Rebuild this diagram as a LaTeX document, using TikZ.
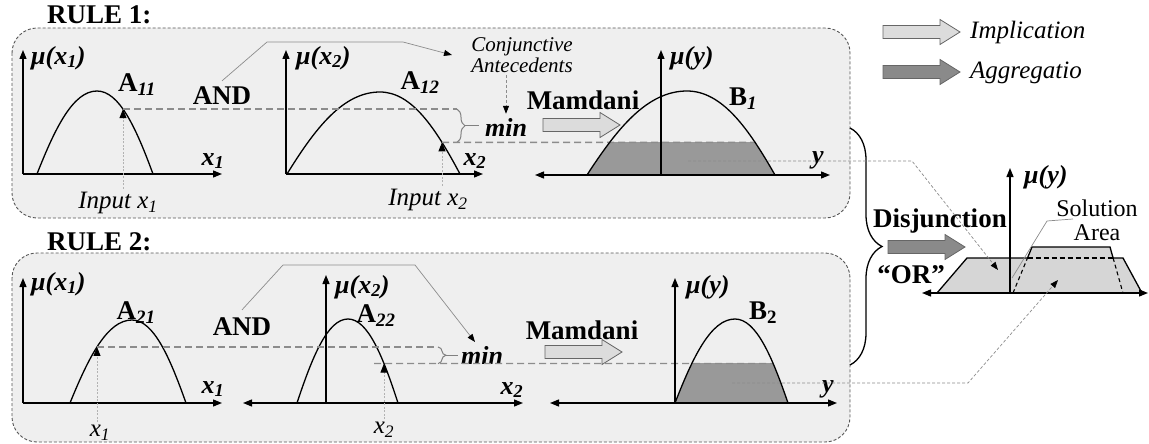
\documentclass[tikz,border=0pt]{standalone}
\usepackage{fontspec}
\setmainfont{Liberation Serif}
\usetikzlibrary{arrows.meta,intersections,decorations.pathreplacing,calc}
\definecolor{boxfill}{HTML}{EFEFEF}
\definecolor{boxline}{HTML}{555555}
\definecolor{shadefill}{HTML}{999999}
\definecolor{implfill}{HTML}{DCDCDC}
\definecolor{aggfill}{HTML}{8A8A8A}
\definecolor{outfill}{HTML}{D6D6D6}
\definecolor{levelcol}{HTML}{8C8C8C}
\definecolor{leadcol}{HTML}{8C8C8C}
\newcommand\mkhump[7]{%
 \pgfmathsetmacro\hmpA{#2+0.3*(#4-#2)}%
 \pgfmathsetmacro\hmpB{#3-0.55*(#3-#5)}%
 \pgfmathsetmacro\hmpC{#4-0.4*(#4-#2)}%
 \pgfmathsetmacro\hmpD{#4+0.4*(#6-#4)}%
 \pgfmathsetmacro\hmpE{#6-0.3*(#6-#4)}%
 \pgfmathsetmacro\hmpF{#7-0.55*(#7-#5)}%
 \coordinate (#1s) at (#2,#3);
 \coordinate (#1a) at (\hmpA,\hmpB);
 \coordinate (#1b) at (\hmpC,#5);
 \coordinate (#1p) at (#4,#5);
 \coordinate (#1c) at (\hmpD,#5);
 \coordinate (#1d) at (\hmpE,\hmpF);
 \coordinate (#1e) at (#6,#7);
}
\newcommand\humpto[1]{(#1s) .. controls (#1a) and (#1b) .. (#1p) .. controls (#1c) and (#1d) .. (#1e)}
\begin{document}
\begin{tikzpicture}[x=1pt,y=-1pt,
 axis/.style={line width=1.3pt,-{Triangle[width=7pt,length=9pt]}},
 axisb/.style={line width=1.3pt,{Triangle[width=7pt,length=9pt]}-{Triangle[width=7pt,length=9pt]}},
 curve/.style={line width=1.3pt},
 level/.style={draw=levelcol,line width=1.3pt,dash pattern=on 7pt off 4pt},
 inarrow/.style={draw=gray!60,line width=0.9pt,dash pattern=on 2pt off 1.5pt,-{Triangle[width=7pt,length=9pt,color=black]}},
 leader/.style={draw=leadcol,line width=0.7pt,-{Triangle[width=6pt,length=8pt,color=black]}},
 leaderd/.style={leader,dash pattern=on 3pt off 2pt},
 plainlead/.style={draw=leadcol,line width=0.7pt},
 panel/.style={draw=boxline,fill=boxfill,line width=0.9pt,dash pattern=on 3pt off 2pt,rounded corners=25pt},
 minbrace/.style={draw=gray,line width=1pt,decorate,decoration={brace,amplitude=8pt}},
 bt/.style={font=\fontsize{27}{30}\selectfont\bfseries,inner sep=0pt},
 it/.style={font=\fontsize{25}{28}\selectfont\itshape,inner sep=0pt},
 bit/.style={font=\fontsize{26}{29}\selectfont\bfseries\itshape,inner sep=0pt},
 rt/.style={font=\fontsize{24}{24}\selectfont,inner sep=0pt},
 blockarr/.pic={\draw[pic actions] (0,-6.5) -- (57,-6.5) -- (57,-12.5) -- (77,0) -- (57,12.5) -- (57,6.5) -- (0,6.5) -- cycle;},
 implarr/.style={fill=implfill,draw=black!60,line width=0.8pt},
 aggarr/.style={fill=aggfill,draw=black!60,line width=0.8pt},
]
\useasboundingbox (0,0) rectangle (1149,444);

% panels
\draw[panel] (12,28) rectangle (850,218);
\draw[panel] (12,253) rectangle (850,442);
\node[bt,anchor=west] (r1) at (47,15) {RULE 1:};
\node[bt,anchor=west] (r2) at (47,242) {RULE 2:};

% ---------- RULE 1, plot 1
\coordinate (o11) at (23,174);
\draw[axis] (o11) -- (23,50);
\draw[axis] (o11) -- (222,174);
\node[bit,anchor=west] (mu11) at (31,58) {μ(x\textsubscript{1})};
\mkhump{a11}{37}{174}{97}{91}{153}{174}
\draw[curve,name path=ca11] \humpto{a11};
\node[bt] (la11) at (137,85) {A\textsubscript{\itshape 11}};
\node[bit] (x11) at (213,161) {x\textsubscript{1}};
\node[it] (in11) at (118,203) {Input x\textsubscript{1}};
\path[name path=v11] (123,190) -- (123,60);
\path[name intersections={of=ca11 and v11,by=i11}];
\draw[inarrow] ([yshift=3pt]in11.north -| i11) -- (i11);

% ---------- RULE 1, plot 2
\coordinate (o12) at (286,174);
\draw[axis] (o12) -- (286,50);
\draw[axis] (o12) -- (483,174);
\node[bit,anchor=west] (mu12) at (296,58) {μ(x\textsubscript{2})};
\mkhump{a12}{287}{174}{380}{92}{460}{174}
\draw[curve,name path=ca12] \humpto{a12};
\node[bt] (la12) at (420,83) {A\textsubscript{\itshape 12}};
\node[bit] (x12) at (475,161) {x\textsubscript{2}};
\node[it] (in12) at (428,200) {Input x\textsubscript{2}};
\path[name path=v12] (442,190) -- (442,60);
\path[name intersections={of=ca12 and v12,by=i12}];
\draw[inarrow] ([yshift=3pt]in12.north -| i12) -- (i12);

% AND / conjunctive / min
\node[bt] (and1) at (222,96) {AND};
\node[it,font=\fontsize{21}{21}\selectfont\itshape,align=center] (conj) at (522,55) {Conjunctive\\Antecedents};
\coordinate (and1k1) at (267,42);
\coordinate (and1k2) at (403,42);
\coordinate (and1t) at (452,55);
\draw[leader] ([yshift=6pt]and1.north) -- (and1k1) -- (and1k2) -- (and1t);
\coordinate (br1) at (457,0);
\draw[level] (i11) -- (br1 |- i11);
\draw[minbrace] (br1 |- i11) -- (br1 |- i12);
\node[bit] (min1) at (506,127) {min};
\coordinate (tip1) at ($(br1|-i11)!.5!(br1|-i12)+(8,0)$);
\draw[draw=gray,line width=1pt] (tip1) -- ([xshift=-6pt]min1.west |- tip1);
\draw[leaderd] ([yshift=-2pt]min1.north |- conj.south) -- ([yshift=4pt]min1.north);

% Mamdani 1
\node[bt] (mam1) at (583,100) {Mamdani};
\pic[implarr] (imp1) at (543,125) {blockarr};

% B1
\coordinate (ob1) at (661,175);
\mkhump{b1}{587}{175}{687}{91}{775}{175}
\path[name path=cb1] \humpto{b1};
\path[name path=h12] (560,0 |- i12) -- (800,0 |- i12);
\path[name intersections={of=cb1 and h12,sort by=cb1,by={b1l,b1r}}];
\begin{scope}
\clip (560,0 |- i12) rectangle (800,175);
\fill[shadefill] \humpto{b1} -- cycle;
\end{scope}
\draw[level] (i12) -- (b1r);
\draw[curve] \humpto{b1};
\draw[axis] (ob1) -- (661,50);
\draw[axisb] (535,175) -- (830,175);
\node[bit,anchor=west] (muy1) at (670,58) {μ(y)};
\node[bt] (lb1) at (743,99) {B\textsubscript{\itshape 1}};
\node[bit] (y1) at (818,160) {y};

% ---------- RULE 2, plot 1
\coordinate (o21) at (23,403);
\draw[axis] (o21) -- (23,278);
\draw[axis] (o21) -- (222,403);
\node[bit,anchor=west] (mu21) at (31,284) {μ(x\textsubscript{1})};
\mkhump{a21}{70}{403}{132}{320}{186}{403}
\draw[curve,name path=ca21] \humpto{a21};
\node[bt] (la21) at (136,313) {A\textsubscript{\itshape 21}};
\node[bit] (x21) at (213,389) {x\textsubscript{1}};
\node[it] (in21) at (100,433) {x\textsubscript{1}};
\path[name path=v21] (97,420) -- (97,300);
\path[name intersections={of=ca21 and v21,by=i21}];
\draw[inarrow] ([yshift=3pt]in21.north -| i21) -- (i21);

% ---------- RULE 2, plot 2
\coordinate (o22) at (326,403);
\draw[axis] (o22) -- (326,275);
\draw[axisb] (243,403) -- (523,403);
\node[bit,anchor=west] (mu22) at (335,287) {μ(x\textsubscript{2})};
\mkhump{a22}{297}{403}{348}{319}{398}{403}
\draw[curve,name path=ca22] \humpto{a22};
\node[bt] (la22) at (376,316) {A\textsubscript{\itshape 22}};
\node[bit] (x22) at (512,390) {x\textsubscript{2}};
\node[it] (in22) at (384,430) {x\textsubscript{2}};
\path[name path=v22] (384,420) -- (384,300);
\path[name intersections={of=ca22 and v22,by=i22}];
\draw[inarrow] ([yshift=3pt]in22.north -| i22) -- (i22);

% AND 2 / min 2
\node[bt] (and2) at (242,327) {AND};
\node[bit] (min2) at (482,355) {min};
\coordinate (and2k1) at (283,265);
\coordinate (and2k2) at (415,265);
\coordinate (and2t) at (475,342);
\draw[leader] ([yshift=8pt]and2.north) -- (and2k1) -- (and2k2) -- (and2t);
\coordinate (br2) at (438,0);
\draw[level] (i21) -- (br2 |- i21);
\draw[minbrace] (br2 |- i21) -- (br2 |- i22);
\coordinate (tip2) at ($(br2|-i21)!.5!(br2|-i22)+(8,0)$);
\draw[draw=gray,line width=1pt] (tip2) -- ([xshift=-3pt]min2.west |- tip2);

% Mamdani 2
\node[bt] (mam2) at (582,330) {Mamdani};
\pic[implarr] (imp2) at (545,352) {blockarr};

% B2
\coordinate (ob2) at (675,403);
\mkhump{b2}{675}{403}{735}{319}{788}{403}
\path[name path=cb2] \humpto{b2};
\path[name path=h22] (560,0 |- i22) -- (820,0 |- i22);
\path[name intersections={of=cb2 and h22,sort by=cb2,by={b2l,b2r}}];
\begin{scope}
\clip (560,0 |- i22) rectangle (820,403);
\fill[shadefill] \humpto{b2} -- cycle;
\end{scope}
\draw[level] ([xshift=-10pt]i22) -- (b2r);
\draw[curve] \humpto{b2};
\draw[axis] (ob2) -- (675,278);
\draw[axisb] (550,403) -- (837,403);
\node[bit,anchor=west] (muy2) at (686,287) {μ(y)};
\node[bt] (lb2) at (763,313) {B\textsubscript{2}};
\node[bit] (y2) at (828,389) {y};

% ---------- aggregation
\draw[line width=1.3pt,decorate,decoration={brace,amplitude=32pt}] (850,128) -- (850,365);
\node[bt] (disj) at (940,221) {Disjunction};
\pic[aggarr] (agg1) at (888,247) {blockarr};
\node[bt] (or) at (911,275) {“OR”};

% output set
\fill[outfill] (937,293) -- (967,258) -- (1027.5,258) -- (1032,247) -- (1110,247) -- (1113.1,258) -- (1123,258) -- (1142,293) -- cycle;
\draw[curve] (937,293) -- (967,258) -- (1027.5,258) -- (1032,247) -- (1110,247) -- (1113.1,258) -- (1123,258) -- (1142,293);
\draw[line width=1.3pt,dash pattern=on 5pt off 3pt] (1027.5,258) -- (1113.1,258);
\draw[line width=1.1pt,dash pattern=on 4pt off 3pt] (1013,293) -- (1027.5,258);
\draw[line width=1.1pt,dash pattern=on 4pt off 3pt] (1113.1,258) -- (1123,293);
\draw[axisb] (922,293) -- (1148,293);
\draw[axis] (1010,293) -- (1010,168);
\node[bit,anchor=west] (muy3) at (1024,177) {μ(y)};
\node[rt,align=center] (sol) at (1097,220) {Solution\\Area};
\coordinate (solk0) at (1073,219);
\coordinate (solk1) at (1047,221);
\coordinate (solk2) at (1012,278);
\draw[plainlead] (solk0) -- (solk1) -- (solk2);

% dashed links from B1, B2 to output
\coordinate (d1s) at (688,161);
\coordinate (d1m) at (912,161);
\coordinate (d1e) at (998,270);
\draw[leaderd] (d1s) -- (d1m) -- (d1e);
\coordinate (d2s) at (732,383);
\coordinate (d2m) at (968,383);
\coordinate (d2e) at (1058,280);
\draw[leaderd] (d2s) -- (d2m) -- (d2e);

% legend
\pic[implarr] (legi) at (883,32) {blockarr};
\node[it,anchor=west] (legit) at (970,32) {Implication};
\pic[aggarr] (lega) at (883,72) {blockarr};
\node[it,anchor=west] (legat) at (970,73) {Aggregatio};
\end{tikzpicture}
\end{document}
